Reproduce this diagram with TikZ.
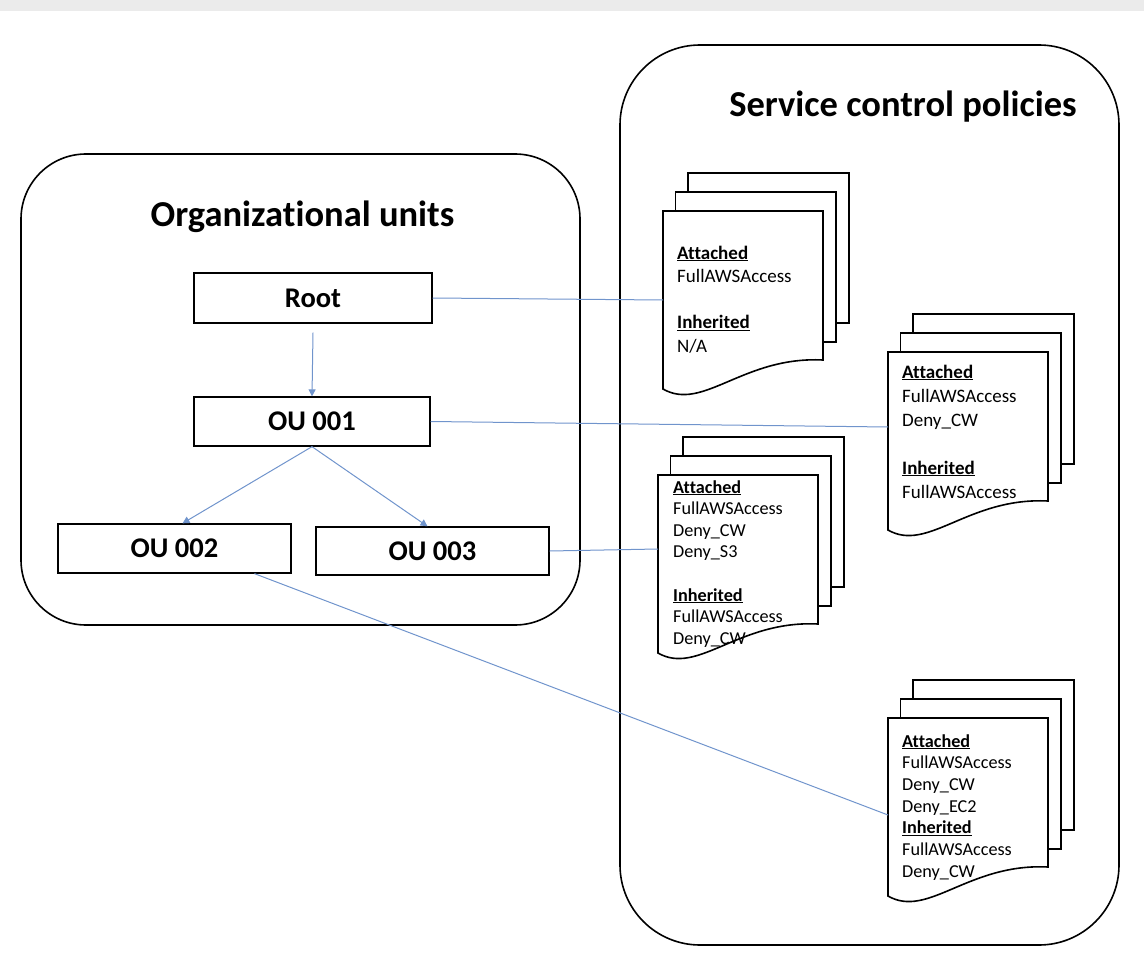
\documentclass[tikz,border=0pt]{standalone}
\usepackage{fontspec}
\setmainfont{Carlito}[Ligatures=NoCommon]
\usetikzlibrary{arrows.meta}
\definecolor{linkblue}{RGB}{112,148,204}
\definecolor{topbar}{RGB}{235,235,235}
\newcommand{\stackedpages}[3]{%
  % #1 = x, #2 = y of top-left corner of the front page, #3 = name
  \draw[pagestyle] ({#1+25},{#2-38}) rectangle ({#1+186},{#2+112});
  \draw[pagestyle] ({#1+12.5},{#2-19}) rectangle ({#1+173},{#2+131});
  \draw[pagestyle] (#1,#2) -- ({#1+160},#2) -- ({#1+160},{#2+149})
     .. controls ({#1+80},{#2+145}) and ({#1+40},{#2+201}) .. (#1,{#2+178}) -- cycle;
}
\begin{document}
\begin{tikzpicture}[x=1pt,y=-1pt,
  container/.style={draw=black,line width=1.6pt,rounded corners=#1},
  pagestyle/.style={draw=black,line width=1.6pt,fill=white},
  oubox/.style={draw=black,line width=1.3pt,inner sep=0pt,
     font=\fontsize{28.5}{30}\selectfont\bfseries},
  title/.style={font=\fontsize{36.5}{40}\selectfont\bfseries,inner sep=0pt,anchor=base},
  link/.style={draw=linkblue,line width=1pt},
  arr/.style={link,-{Triangle[length=7pt,width=7pt]}},
  doctext/.style={inner sep=0pt,anchor=base west}
]
\useasboundingbox (0,0) rectangle (1144,963);
\fill[topbar] (0,0) rectangle (1144,11);

% containers
\draw[container=65pt] (21,154) rectangle (580,625);
\draw[container=80pt] (620,45) rectangle (1119,945);

\node[title] (outitle) at (302.5,226) {Organizational units};
\node[title] (scptitle) at (903,117) {Service control policies};

% OU boxes
\node[oubox,minimum width=238pt,minimum height=50pt] (root) at (313,298) {Root};
\node[oubox,minimum width=236pt,minimum height=49pt] (ou1) at (312,421.5) {OU 001};
\node[oubox,minimum width=233pt,minimum height=49pt] (ou2) at (174.5,548.5) {OU 002};
\node[oubox,minimum width=233pt,minimum height=48pt] (ou3) at (432.5,551) {OU 003};

% policy documents
\stackedpages{663}{211}{d1}
\stackedpages{888}{352}{d2}
\stackedpages{658}{475}{d3}
\stackedpages{888}{718}{d4}

\coordinate (d1) at (663,300);
\coordinate (d2) at (888,427);
\coordinate (d3) at (658,549);
\coordinate (d4) at (888,815);

\node[doctext,font=\fontsize{19}{23.3}\selectfont] (t1) at (677,259)
 {\begin{tabular}[t]{@{}l@{}}\underline{\textbf{Attached}}\\ FullAWSAccess\\ \\ \underline{\textbf{Inherited}}\\ N/A\end{tabular}};
\node[doctext,font=\fontsize{19}{24}\selectfont] (t2) at (902,378)
 {\begin{tabular}[t]{@{}l@{}}\underline{\textbf{Attached}}\\ FullAWSAccess\\ Deny\_CW\\ \\ \underline{\textbf{Inherited}}\\ FullAWSAccess\end{tabular}};
\node[doctext,font=\fontsize{18.2}{21.6}\selectfont] (t3) at (673,493)
 {\begin{tabular}[t]{@{}l@{}}\underline{\textbf{Attached}}\\ FullAWSAccess\\ Deny\_CW\\ Deny\_S3\\ \\ \underline{\textbf{Inherited}}\\ FullAWSAccess\\ Deny\_CW\end{tabular}};
\node[doctext,font=\fontsize{18.2}{21.7}\selectfont] (t4) at (902,747)
 {\begin{tabular}[t]{@{}l@{}}\underline{\textbf{Attached}}\\ FullAWSAccess\\ Deny\_CW\\ Deny\_EC2\\ \underline{\textbf{Inherited}}\\ FullAWSAccess\\ Deny\_CW\end{tabular}};

% hierarchy arrows
\draw[arr] ([yshift=-9pt]root.south) -- (ou1.north);
\draw[arr] (ou1.south) -- ([xshift=8pt]ou2.north);
\draw[arr] (ou1.south) -- ([xshift=-5pt]ou3.north);

% links to policies
\draw[link] (root.east) -- (d1);
\draw[link] (ou1.east) -- (d2);
\draw[link] (ou3.east) -- (d3);
\draw[link] ([xshift=80pt]ou2.south) -- (d4);
\end{tikzpicture}
\end{document}
